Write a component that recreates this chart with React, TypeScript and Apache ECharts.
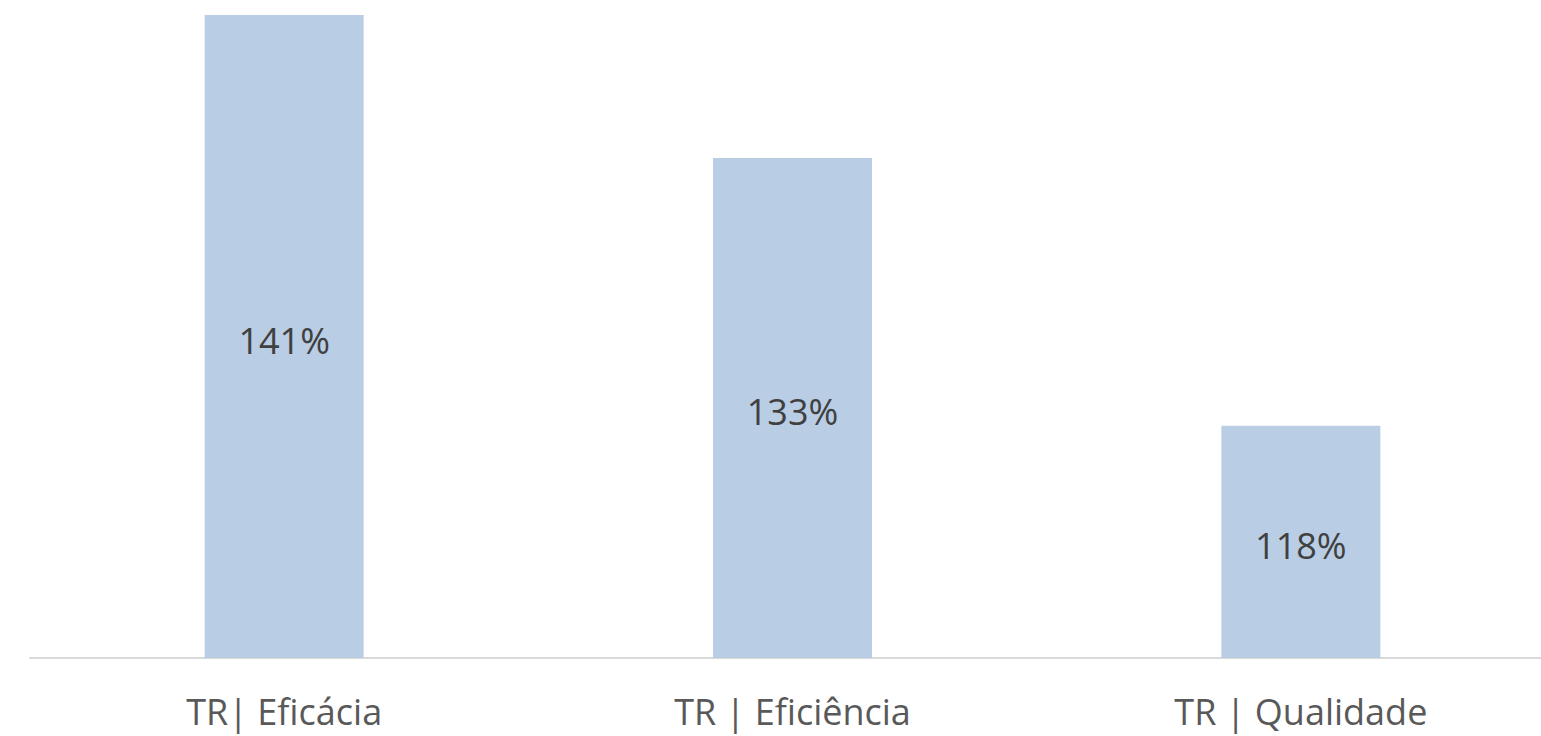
import React, { useEffect, useRef } from "react";
import * as echarts from "echarts";

const categories = ["TR| Eficácia", "TR | Eficiência", "TR | Qualidade"];
const values = [141, 133, 118];

export default function App() {
  const ref = useRef<HTMLDivElement>(null);
  useEffect(() => {
    if (!ref.current) return;
    const chart = echarts.init(ref.current, null, { renderer: "svg" });
    chart.setOption({
      animation: false,
      backgroundColor: "#ffffff",
      grid: { left: 30, top: 15, width: 1525, height: 643, containLabel: false },
      xAxis: {
        type: "category",
        data: categories,
        axisLine: { show: true, lineStyle: { color: "#D9D9D9", width: 2 } },
        axisTick: { show: false },
        axisLabel: {
          color: "#595959",
          fontFamily: "Open Sans",
          fontSize: 36,
          margin: 35,
        },
      },
      yAxis: {
        type: "value",
        min: 105,
        max: 141,
        show: false,
        splitLine: { show: false },
      },
      series: [
        {
          type: "bar",
          data: values,
          barWidth: 159,
          itemStyle: { color: "#B9CDE5" },
          label: {
            show: true,
            position: "inside",
            offset: [0, 4],
            formatter: "{c}%",
            color: "#404040",
            fontFamily: "Open Sans",
            fontSize: 36,
          },
        },
      ],
    });
    return () => chart.dispose();
  }, []);
  return (
    <div
      style={{
        position: "fixed",
        left: 0,
        top: 0,
        width: 1541,
        height: 736,
        overflow: "hidden",
        background: "#ffffff",
      }}
    >
      <div ref={ref} style={{ width: 1600, height: 736 }} />
    </div>
  );
}
